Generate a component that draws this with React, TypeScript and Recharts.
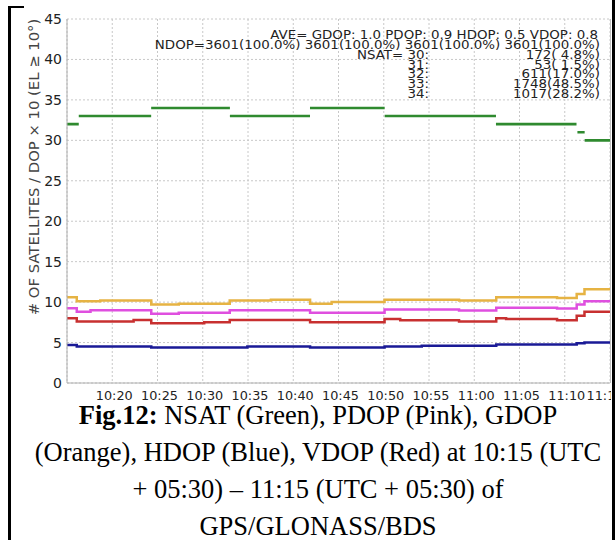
import React from 'react';
import { LineChart, Line, XAxis, YAxis, CartesianGrid } from 'recharts';

// minutes since 10:15
const xTicks = [5, 10, 15, 20, 25, 30, 35, 40, 45, 50, 55, 60];
const xTickLabels = ['10:20', '10:25', '10:30', '10:35', '10:40', '10:45', '10:50', '10:55', '11:00', '11:05', '11:10', '11:15'];
const yTicks = [0, 5, 10, 15, 20, 25, 30, 35, 40, 45];

// NSAT segments: start minute, end minute, value
const nsatStart = [0, 1.3, 9.3, 18.0, 26.85, 35.1, 47.4, 56.4, 57.2];
const nsatEnd = [1.3, 9.3, 18.0, 26.85, 35.1, 47.4, 56.3, 57.2, 60];
const nsatVal = [32, 33, 34, 33, 34, 33, 32, 31, 30];

// DOP x 10 step series: change times and values
const gdopT = [0, 1.08, 3.68, 9.31, 12.35, 17.98, 22.53, 26.86, 29.24, 35.09, 43.32, 47.43, 54.15, 56.32, 57.18];
const gdopV = [10.6, 10.1, 10.2, 9.7, 9.8, 10.2, 10.3, 9.8, 10.0, 10.3, 10.2, 10.6, 10.5, 11.0, 11.6];

const pdopT = [0, 1.08, 2.6, 9.31, 12.35, 17.98, 26.86, 35.09, 43.32, 47.43, 54.15, 56.32, 57.18];
const pdopV = [9.25, 8.8, 9.0, 8.55, 8.7, 9.0, 8.7, 9.1, 8.95, 9.3, 9.2, 9.7, 10.1];

const vdopT = [0, 1.08, 7.36, 9.31, 15.16, 17.98, 26.86, 35.09, 36.82, 43.32, 47.43, 48.52, 54.15, 56.32, 57.18];
const vdopV = [8.0, 7.6, 7.8, 7.4, 7.5, 7.8, 7.5, 7.9, 7.75, 7.6, 8.0, 7.9, 7.75, 8.3, 8.8];

const hdopT = [0, 1.08, 9.31, 19.93, 26.86, 35.09, 39.2, 47.43, 56.32, 57.18];
const hdopV = [4.7, 4.5, 4.4, 4.5, 4.4, 4.5, 4.6, 4.75, 4.9, 5.0];

const X_END = 60;

const stepData = (t: number[], v: number[]) => {
  const d = t.map((m, i) => ({ m, v: v[i] }));
  d.push({ m: X_END, v: v[v.length - 1] });
  return d;
};

const segData = () => {
  const d: { m: number; v: number | null }[] = [];
  nsatStart.forEach((s, i) => {
    d.push({ m: s, v: nsatVal[i] });
    d.push({ m: nsatEnd[i], v: nsatVal[i] });
    d.push({ m: nsatEnd[i], v: null });
  });
  return d;
};

const annotLines = [
  'AVE= GDOP: 1.0 PDOP: 0.9 HDOP: 0.5 VDOP: 0.8',
  'NDOP=3601(100.0%) 3601(100.0%) 3601(100.0%) 3601(100.0%)',
];
const nsatLabels = ['NSAT= 30:', '31:', '32:', '33:', '34:'];
const nsatCounts = ['172( 4.8%)', '53( 1.5%)', '611(17.0%)', '1748(48.5%)', '1017(28.2%)'];

const captionLines = [
  'NSAT (Green), PDOP (Pink), GDOP',
  '(Orange), HDOP (Blue), VDOP (Red) at 10:15 (UTC',
  '+ 05:30) – 11:15 (UTC + 05:30) of',
  'GPS/GLONASS/BDS',
];

const FONT = "'DejaVu Sans', Verdana, sans-serif";

const XTick = (props: any) => {
  const { x, y, payload } = props;
  const idx = xTicks.indexOf(payload.value);
  return (
    <text x={x + 2} y={y} dy="0.71em" textAnchor="middle" fontSize={12.8} fontFamily={FONT} fill="#222">
      {xTickLabels[idx]}
    </text>
  );
};

const AnnText = ({ x, y, s }: { x: number; y: number; s: string }) => (
  <text transform={`translate(${x},${y}) scale(1,0.87)`} textAnchor="end" style={{ whiteSpace: 'pre' }}>
    {s}
  </text>
);

export default function App() {
  const capTops = [402, 439, 476, 512.5];
  return (
    <div style={{ position: 'absolute', left: 0, top: 0, width: 615, height: 540, background: '#fff', overflow: 'hidden' }}>
      {/* frame */}
      <div style={{ position: 'absolute', left: 8, top: 6, width: 3, height: 534, background: '#000' }} />
      <div style={{ position: 'absolute', left: 8, top: 6, width: 16, height: 2, background: '#000' }} />
      <div style={{ position: 'absolute', left: 612, top: 0, width: 3, height: 540, background: '#000' }} />

      <div style={{ position: 'absolute', left: 23, top: 0, width: 588, height: 420, overflow: 'hidden' }}>
        <LineChart width={588} height={420} margin={{ top: 19, right: 1, left: 0, bottom: 0 }}>
          <CartesianGrid stroke="#c8c8c8" strokeDasharray="2 2" vertical horizontal />
          <XAxis
            type="number"
            dataKey="m"
            domain={[0, 60]}
            ticks={xTicks}
            tick={<XTick />}
            tickLine={false}
            tickSize={0}
            tickMargin={8}
            height={37}
            stroke="#b0b0b0"
            allowDataOverflow
          />
          <YAxis
            type="number"
            domain={[0, 45]}
            ticks={yTicks}
            width={44}
            tickLine={false}
            tickSize={0}
            tickMargin={5}
            stroke="#b0b0b0"
            tick={{ fontSize: 14, fill: '#222', fontFamily: FONT }}
          />
          <Line data={segData()} dataKey="v" type="linear" stroke="#2f8a2f" strokeWidth={2.6} dot={false} isAnimationActive={false} connectNulls={false} />
          <Line data={stepData(gdopT, gdopV)} dataKey="v" type="stepAfter" stroke="#e6b343" strokeWidth={2.5} dot={false} isAnimationActive={false} />
          <Line data={stepData(pdopT, pdopV)} dataKey="v" type="stepAfter" stroke="#df4fdf" strokeWidth={2.5} dot={false} isAnimationActive={false} />
          <Line data={stepData(vdopT, vdopV)} dataKey="v" type="stepAfter" stroke="#c83030" strokeWidth={2.5} dot={false} isAnimationActive={false} />
          <Line data={stepData(hdopT, hdopV)} dataKey="v" type="stepAfter" stroke="#1a1a96" strokeWidth={2.5} dot={false} isAnimationActive={false} />
        </LineChart>
      </div>

      {/* right edge of plot frame */}
      <div style={{ position: 'absolute', left: 610, top: 19, width: 1, height: 364, background: '#c0c0c0' }} />

      {/* annotations */}
      <svg width={615} height={420} style={{ position: 'absolute', left: 0, top: 0 }}>
        <g fontFamily={FONT} fontSize={13.4} fill="#222">
          <AnnText x={598} y={38.5} s={annotLines[0]} />
          <AnnText x={600} y={48.8} s={annotLines[1]} />
          {nsatLabels.map((s, i) => (
            <AnnText key={'l' + i} x={429} y={58.8 + i * 9.8} s={s} />
          ))}
          {nsatCounts.map((s, i) => (
            <AnnText key={'c' + i} x={600} y={58.8 + i * 9.8} s={s} />
          ))}
        </g>
        <text
          transform="translate(33,167) rotate(-90)"
          textAnchor="middle"
          dominantBaseline="central"
          fontFamily={FONT}
          fontSize={14.8}
          fill="#444"
        >
          # OF SATELLITES / DOP × 10 (EL ≥ 10°)
        </text>
      </svg>

      {/* caption */}
      {captionLines.map((s, i) => (
        <div
          key={i}
          style={{
            position: 'absolute',
            left: 23,
            top: capTops[i],
            width: 590,
            textAlign: 'center',
            fontFamily: "'Liberation Serif', 'Times New Roman', serif",
            fontSize: 26.5,
            lineHeight: '26px',
            color: '#000',
            whiteSpace: 'nowrap',
          }}
        >
          {i === 0 ? <b>Fig.12:</b> : null}
          {i === 0 ? ' ' : ''}
          {s}
        </div>
      ))}
    </div>
  );
}
